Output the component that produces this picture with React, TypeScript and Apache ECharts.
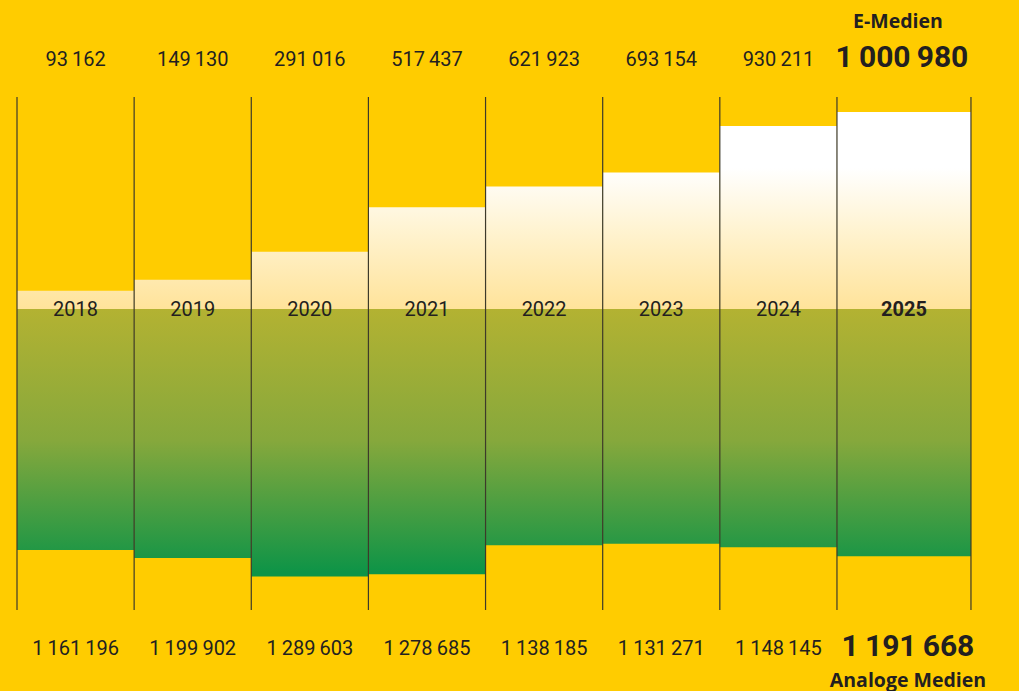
import React, { useEffect, useRef } from "react";
import * as echarts from "echarts";

const years = ["2018", "2019", "2020", "2021", "2022", "2023", "2024", "2025"];
const eMedien = [93162, 149130, 291016, 517437, 621923, 693154, 930211, 1000980];
const analogeMedien = [1161196, 1199902, 1289603, 1278685, 1138185, 1131271, 1148145, 1191668];
const upperTitle = "E-Medien";
const lowerTitle = "Analoge Medien";

const UPPER_MAX = 1077000;
const LOWER_MAX = 1450600;
const TEXT = "#231f20";
const LINE = "#3d3a2a";
const FONT = "Roboto, 'DejaVu Sans', sans-serif";
const TITLE_FONT = "'Open Sans', Roboto, sans-serif";

const fmt = (n: number) => String(n).replace(/\B(?=(\d{3})+(?!\d))/g, "\u2009");

export default function App() {
  const ref = useRef<HTMLDivElement>(null);
  useEffect(() => {
    document.body.style.margin = "0";
    const chart = echarts.init(ref.current!, null, { renderer: "svg" });
    const last = years.length - 1;

    const upperGrad = new echarts.graphic.LinearGradient(0, 309, 0, 168, [
      { offset: 0, color: "#FFE39A" },
      { offset: 0.55, color: "#FFF3D0" },
      { offset: 1, color: "#FFFFFF" },
    ], true);
    const lowerGrad = new echarts.graphic.LinearGradient(0, 309, 0, 572, [
      { offset: 0, color: "#B3B232" },
      { offset: 0.5, color: "#86A83C" },
      { offset: 1, color: "#0E9447" },
    ], true);

    const colGeom = (api: any, idx: number, v: number, max: number) => {
      const bw = api.size([1, 0])[0];
      const w = idx === last ? bw * 1.144 : bw;
      const c = api.coord([idx, v]);
      const base = api.coord([idx, 0]);
      const end = api.coord([idx, max]);
      const x0 = c[0] - bw / 2;
      return { bw, w, c, base, end, x0 };
    };

    chart.setOption({
      animation: false,
      backgroundColor: "#FFCC00",
      grid: [
        { left: 17, width: 937.1, top: 97, height: 212 },
        { left: 17, width: 937.1, top: 309, height: 301 },
      ],
      xAxis: [
        { type: "category", data: years, gridIndex: 0, show: false },
        { type: "category", data: years, gridIndex: 1, show: false },
      ],
      yAxis: [
        { type: "value", gridIndex: 0, min: 0, max: UPPER_MAX, show: false },
        { type: "value", gridIndex: 1, min: 0, max: LOWER_MAX, inverse: true, show: false },
      ],
      series: [
        {
          type: "custom",
          xAxisIndex: 0,
          yAxisIndex: 0,
          data: eMedien.map((v, i) => [i, v]),
          encode: { x: 0, y: 1 },
          renderItem: (params: any, api: any) => {
            const idx = api.value(0);
            const v = api.value(1);
            const g = colGeom(api, idx, v, UPPER_MAX);
            const cx = g.x0 + g.w / 2;
            const children: any[] = [
              { type: "rect", shape: { x: g.x0, y: g.c[1], width: g.w, height: g.base[1] - g.c[1] }, style: { fill: upperGrad } },
              { type: "line", shape: { x1: g.x0, y1: g.end[1], x2: g.x0, y2: g.base[1] }, style: { stroke: LINE, lineWidth: 1.2 } },
            ];
            if (idx === last) {
              children.push({ type: "line", shape: { x1: g.x0 + g.w, y1: g.end[1], x2: g.x0 + g.w, y2: g.base[1] }, style: { stroke: LINE, lineWidth: 1.2 } });
              children.push({ type: "text", style: { text: fmt(v), x: cx - 2, y: g.end[1] - 41, textAlign: "center", verticalAlign: "middle", fontFamily: FONT, fontWeight: "bold", fontSize: 30, fill: TEXT } });
              children.push({ type: "text", style: { text: upperTitle, x: cx - 6, y: g.end[1] - 77, textAlign: "center", verticalAlign: "middle", fontFamily: TITLE_FONT, fontWeight: "bold", fontSize: 19.5, fill: TEXT } });
            } else {
              children.push({ type: "text", style: { text: fmt(v), x: cx, y: g.end[1] - 38, textAlign: "center", verticalAlign: "middle", fontFamily: FONT, fontSize: 20, fill: TEXT } });
            }
            return { type: "group", children };
          },
        },
        {
          type: "custom",
          xAxisIndex: 1,
          yAxisIndex: 1,
          data: analogeMedien.map((v, i) => [i, v]),
          encode: { x: 0, y: 1 },
          renderItem: (params: any, api: any) => {
            const idx = api.value(0);
            const v = api.value(1);
            const g = colGeom(api, idx, v, LOWER_MAX);
            const cx = g.x0 + g.w / 2;
            const children: any[] = [
              { type: "rect", shape: { x: g.x0, y: g.base[1], width: g.w, height: g.c[1] - g.base[1] }, style: { fill: lowerGrad } },
              { type: "line", shape: { x1: g.x0, y1: g.base[1], x2: g.x0, y2: g.end[1] }, style: { stroke: LINE, lineWidth: 1.2 } },
              { type: "text", style: { text: years[idx], x: cx, y: g.base[1], textAlign: "center", verticalAlign: "middle", fontFamily: FONT, fontWeight: idx === last ? "bold" : "normal", fontSize: 20, fill: TEXT } },
            ];
            if (idx === last) {
              children.push({ type: "line", shape: { x1: g.x0 + g.w, y1: g.base[1], x2: g.x0 + g.w, y2: g.end[1] }, style: { stroke: LINE, lineWidth: 1.2 } });
              children.push({ type: "text", style: { text: fmt(v), x: cx + 4, y: g.end[1] + 35, textAlign: "center", verticalAlign: "middle", fontFamily: FONT, fontWeight: "bold", fontSize: 30, fill: TEXT } });
              children.push({ type: "text", style: { text: lowerTitle, x: cx + 4, y: g.end[1] + 69, textAlign: "center", verticalAlign: "middle", fontFamily: TITLE_FONT, fontWeight: "bold", fontSize: 19.5, fill: TEXT } });
            } else {
              children.push({ type: "text", style: { text: fmt(v), x: cx, y: g.end[1] + 38, textAlign: "center", verticalAlign: "middle", fontFamily: FONT, fontSize: 20, fill: TEXT } });
            }
            return { type: "group", children };
          },
        },
      ],
    });
    return () => chart.dispose();
  }, []);
  return <div ref={ref} style={{ position: "fixed", left: 0, top: 0, width: 1019, height: 691 }} />;
}
